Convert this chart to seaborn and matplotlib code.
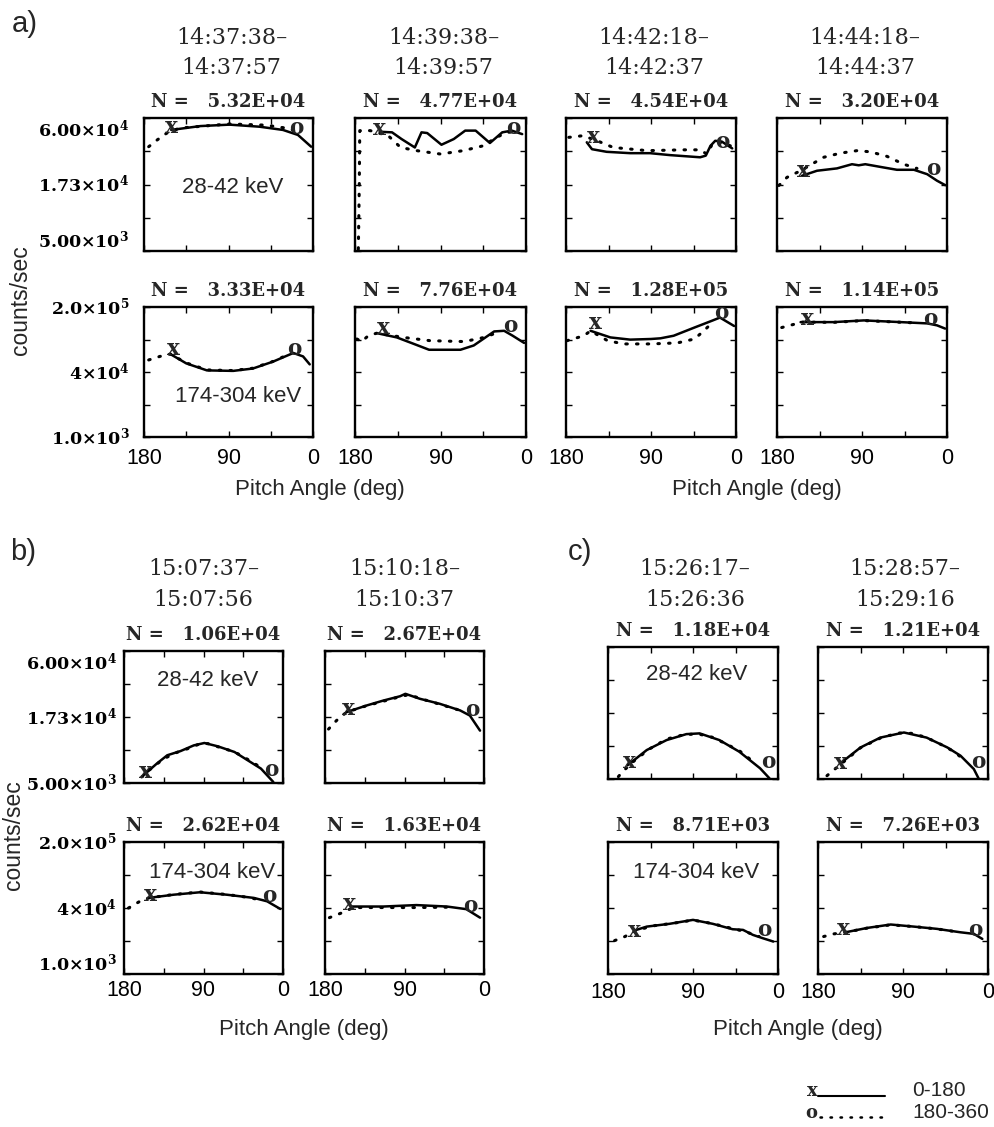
import numpy as np
import pandas as pd
import matplotlib
matplotlib.use("Agg")
import matplotlib.pyplot as plt
import seaborn as sns
from matplotlib.lines import Line2D
from matplotlib.ticker import NullLocator

# ---------------- data (pitch angle [deg], counts/sec) ----------------
LOW_RANGE = (5000, 60000)
HIGH_RANGE = (1000, 200000)
LOW_YLABELS = [r"$5.00×10^{3}$", r"$1.73×10^{4}$", r"$6.00×10^{4}$"]
HIGH_YLABELS = [r"$1.0×10^{3}$", r"$4×10^{4}$", r"$2.0×10^{5}$"]
X_TICKS = [180, 135, 90, 45, 0]
X_LABELS = ["180", "", "90", "", "0"]

TIMES_A = [("14:37:38–", "14:37:57"), ("14:39:38–", "14:39:57"),
           ("14:42:18–", "14:42:37"), ("14:44:18–", "14:44:37")]
TIMES_B = [("15:07:37–", "15:07:56"), ("15:10:18–", "15:10:37")]
TIMES_C = [("15:26:17–", "15:26:36"), ("15:28:57–", "15:29:16")]

N_LOW_A = ["5.32E+04", "4.77E+04", "4.54E+04", "3.20E+04"]
N_HIGH_A = ["3.33E+04", "7.76E+04", "1.28E+05", "1.14E+05"]
N_LOW_B = ["1.06E+04", "2.67E+04"]
N_HIGH_B = ["2.62E+04", "1.63E+04"]
N_LOW_C = ["1.18E+04", "1.21E+04"]
N_HIGH_C = ["8.71E+03", "7.26E+03"]

ENERGY_LOW = "28-42 keV"
ENERGY_HIGH = "174-304 keV"

# section a, 28-42 keV
LA1_solid = ([151, 120, 89, 57, 32, 16, 2], [48000, 51600, 53000, 51000, 48000, 43700, 35100])
LA1_dot = ([175, 166, 156, 142, 89, 50, 25, 14], [35100, 39800, 45100, 49700, 53700, 52500, 49200, 45100])
LA1_mark = [(151, 51000), (18, 49700)]
LA2_solid = ([154, 141, 131, 117, 110, 104, 89, 76, 64, 53, 38, 25, 15, 4],
             [46400, 45900, 40500, 34600, 45900, 45300, 36400, 40500, 47400, 47400, 37600, 45900, 47400, 44400])
LA2_dot = ([176.5, 176, 175.5, 175, 164, 145, 132, 115, 90, 66, 45, 31, 20, 10],
           [5170, 9000, 17000, 47400, 47400, 43100, 34600, 32600, 30600, 32600, 35700, 41800, 45900, 46400])
LA2_mark = [(154, 48800), (13, 49400)]
LA3_solid = ([158, 152.5, 137, 112, 91, 70, 38, 32, 27, 22, 15, 4],
             [38100, 33500, 31900, 31100, 31100, 30000, 28800, 29700, 35700, 39200, 38600, 34000])
LA3_dot = ([177, 162, 147, 130, 94, 56, 38, 31, 25, 20, 6],
           [41800, 43100, 39200, 34600, 32600, 33100, 33100, 30600, 36900, 38600, 35700])
LA3_mark = [(151, 41800), (15, 38600)]
LA4_solid = ([153.5, 137.6, 116.5, 100.6, 93.5, 86.5, 67, 53, 35, 21, 10.6, 1.8],
             [20400, 22400, 23400, 25300, 24800, 25300, 23800, 22800, 22800, 21000, 18600, 17100])
LA4_dot = ([178, 169.4, 155, 130.6, 113, 95.3, 81.2, 63.5, 45.9, 31.8],
           [17000, 19800, 22400, 28800, 31100, 32600, 31900, 29300, 25300, 23400])
LA4_mark = [(152.5, 22400), (14, 23100)]

# section a, 174-304 keV
HA1_solid = ([152, 135, 113, 85, 64, 42.5, 21, 10.6, 3.5], [29400, 20100, 15100, 14800, 16300, 21600, 30700, 26700, 19300])
HA1_dot = ([175, 163, 152, 135, 113, 85, 64, 42.5, 25], [23100, 26700, 29400, 20500, 15400, 15000, 16500, 21800, 29500])
HA1_mark = [(149, 35400), (19.5, 35400)]
HA2_solid = ([157, 136, 118, 102, 69, 55, 33.5, 23, 14, 2],
             [68900, 57900, 44400, 35000, 35000, 41700, 73900, 75800, 62000, 46300])
HA2_dot = ([178, 173, 166, 157, 129, 101, 65, 44, 30], [54300, 48900, 62000, 68900, 57900, 50700, 48900, 57900, 70800])
HA2_mark = [(150, 86600), (16, 92200)]
HA3_solid = ([154, 133, 112, 90, 80, 66, 44, 25, 17, 2],
             [75800, 57900, 52900, 54300, 55800, 62000, 86600, 115000, 130000, 92200])
HA3_dot = ([179, 161, 154, 136, 119, 90, 62, 44, 34, 27],
           [50700, 62000, 75800, 50700, 44400, 44400, 46300, 54300, 75800, 98800])
HA3_mark = [(149, 105300), (16, 157000)]
HA4_solid = ([155, 120, 88, 49, 21, 10.6, 2], [108000, 108000, 115800, 108000, 102500, 94700, 83000])
HA4_dot = ([175, 162, 155, 120, 88, 49, 30], [86600, 98800, 108000, 107000, 115000, 107500, 104000])
HA4_mark = [(148, 124000), (17.6, 124000)]

# section b
LB1_solid = ([158, 143, 131, 116, 101, 89, 74, 55, 40, 25, 11],
             [5780, 7190, 8430, 9120, 10150, 10620, 9980, 8970, 7670, 6560, 5100])
LB1_dot = ([160, 150, 135, 120, 105, 95, 85, 70, 55, 40, 28],
           [5600, 6500, 7900, 8900, 9700, 10400, 10500, 9700, 9000, 7800, 6900])
LB1_mark = [(156, 6150), (13, 6350)]
LB2_solid = ([155.5, 133, 114, 95, 89, 72.5, 50, 27, 16, 4.5],
             [19000, 21500, 23600, 25600, 26800, 24400, 22200, 19600, 17800, 13400])
LB2_dot = ([176, 167, 155.5, 133, 114, 95, 85, 72, 50, 30],
           [13800, 16200, 19000, 21400, 23300, 25400, 26400, 24500, 22000, 19900])
LB2_mark = [(153.6, 20200), (12.8, 19600)]
HB1_solid = ([152, 124, 94, 63.5, 33, 18, 3], [21200, 24100, 26600, 24100, 21200, 18500, 13600])
HB1_dot = ([175, 162, 152, 124, 94, 63.5, 40, 25], [14100, 18500, 21200, 24300, 26900, 24300, 21700, 19500])
HB1_mark = [(150.5, 24100), (16, 22500)]
HB2_solid = ([150, 114, 76.5, 42, 20, 4.5], [15000, 15000, 15900, 15000, 13500, 9600])
HB2_dot = ([175, 160, 148, 114, 76, 42], [9600, 11800, 14400, 14400, 14400, 14600])
HB2_mark = [(152, 16600), (16, 15500)]

# section c
LC1_solid = ([159, 139, 118, 97, 83, 62, 41, 19, 9], [6500, 8620, 10400, 11640, 11800, 10400, 8360, 6120, 5060])
LC1_dot = ([169, 164, 150, 135, 118, 100, 85, 70, 55, 40, 30],
           [5230, 5800, 7300, 8900, 10600, 11500, 11700, 11000, 9700, 8400, 7300])
LC1_mark = [(157, 6930), (10.6, 6930)]
LC2_solid = ([155, 135, 114, 89, 65, 43, 29, 15, 10], [6840, 9050, 10900, 12000, 10900, 9050, 7740, 6030, 5060])
LC2_dot = ([170.5, 160, 150, 135, 114, 95, 80, 65, 50, 35, 25],
           [5320, 6220, 7200, 9000, 10800, 11900, 11800, 10900, 9600, 8300, 7100])
LC2_mark = [(156, 6750), (10, 6840)]
HC1_solid = ([150, 139, 115, 90, 69, 48, 37, 26.5, 16, 5], [5870, 6700, 7490, 8780, 7490, 6030, 5870, 4800, 4200, 3680])
HC1_dot = ([173, 162, 150, 130, 110, 90, 70, 50, 35, 20], [3820, 4500, 5800, 7000, 7700, 8700, 7600, 6300, 5500, 4500])
HC1_mark = [(152, 5510), (14, 5870)]
HC2_solid = ([151, 128, 103, 78.5, 54, 29, 15, 6], [5330, 6350, 7290, 6700, 6120, 5330, 5010, 4090])
HC2_dot = ([174, 163, 151, 128, 103, 78, 54, 35], [4500, 5010, 5330, 6300, 7200, 6700, 6100, 5500])
HC2_mark = [(153, 6120), (13, 5870)]

LEGEND_LABELS = ["0-180", "180-360"]

# ---------------- style ----------------
sns.set_theme(style="white")
plt.rcParams['font.family'] = ['Liberation Sans', 'DejaVu Sans']
plt.rcParams['mathtext.fontset'] = 'custom'
plt.rcParams['mathtext.rm'] = 'DejaVu Serif:bold'
plt.rcParams['mathtext.it'] = 'DejaVu Serif:bold'
plt.rcParams['mathtext.bf'] = 'DejaVu Serif:bold'
plt.rcParams['mathtext.default'] = 'rm'

W, H = 994, 1127
fig = plt.figure(figsize=(W / 100, H / 100), dpi=100)

SERIF_B = dict(family='DejaVu Serif', weight='bold')
DOT_STYLE = (0, (0.5, 3.0))


def fx(x):
    return x / W


def fy(y):
    return 1 - y / H


def add_ax(x0, x1, y0, y1):
    return fig.add_axes([x0 / W, 1 - y1 / H, (x1 - x0) / W, (y1 - y0) / H])


def draw_panel(box, solid, dot, marks, yrange, ylabels, nval, show_x, xpad, ypad, label_va):
    ax = add_ax(*box)
    df_d = pd.DataFrame({'pa': dot[0], 'cps': dot[1]})
    df_s = pd.DataFrame({'pa': solid[0], 'cps': solid[1]})
    sns.lineplot(data=df_d, x='pa', y='cps', ax=ax, color='black', lw=2.2,
                 linestyle=DOT_STYLE, dash_capstyle='round', estimator=None, sort=False)
    sns.lineplot(data=df_s, x='pa', y='cps', ax=ax, color='black', lw=1.8,
                 estimator=None, sort=False)
    ax.text(marks[0][0], marks[0][1], 'x', ha='center', va='center', fontsize=15.5, **SERIF_B)
    ax.text(marks[1][0], marks[1][1], 'o', ha='center', va='center', fontsize=15.5, **SERIF_B)
    lo, hi = yrange
    ax.set_yscale('log')
    ax.set_ylim(lo, hi)
    ax.set_xlim(180, 0)
    ax.set_xticks(X_TICKS)
    ax.set_xticklabels(X_LABELS if show_x else [''] * 5, fontsize=15.5)
    yt = [lo * (hi / lo) ** (k / 4) for k in range(5)]
    ax.set_yticks(yt)
    ax.yaxis.set_minor_locator(NullLocator())
    if ylabels is not None:
        ax.set_yticklabels([ylabels[0], '', ylabels[1], '', ylabels[2]], fontsize=12.5)
        tl = ax.get_yticklabels()
        for i, va in zip([0, 2, 4], label_va):
            tl[i].set_va(va)
    else:
        ax.set_yticklabels([''] * 5)
    ax.set_xlabel('')
    ax.set_ylabel('')
    ax.tick_params(axis='both', which='major', direction='in', length=4, width=1,
                   top=True, right=True, bottom=True, left=True, colors='black')
    ax.tick_params(axis='x', pad=xpad)
    ax.tick_params(axis='y', pad=ypad)
    for s in ax.spines.values():
        s.set_linewidth(1.7)
        s.set_color('black')
        s.set_visible(True)
    ax.annotate(f"N =   {nval}", xy=(0.5, 1.0), xycoords='axes fraction',
                xytext=(0, 5), textcoords='offset points', ha='center', va='bottom',
                fontsize=13, **SERIF_B)
    return ax


# ---------------- section a ----------------
A_X = [(144, 313), (355, 526), (566, 736), (777, 947)]
A_ROW1 = (118, 251)
A_ROW2 = (307, 437)
A_LOW = [(LA1_solid, LA1_dot, LA1_mark), (LA2_solid, LA2_dot, LA2_mark),
         (LA3_solid, LA3_dot, LA3_mark), (LA4_solid, LA4_dot, LA4_mark)]
A_HIGH = [(HA1_solid, HA1_dot, HA1_mark), (HA2_solid, HA2_dot, HA2_mark),
          (HA3_solid, HA3_dot, HA3_mark), (HA4_solid, HA4_dot, HA4_mark)]
for i, (x0, x1) in enumerate(A_X):
    s, d, m = A_LOW[i]
    draw_panel((x0, x1, *A_ROW1), s, d, m, LOW_RANGE, LOW_YLABELS if i == 0 else None,
               N_LOW_A[i], False, 8, 10.5, ['bottom', 'center', 'top'])
    s, d, m = A_HIGH[i]
    draw_panel((x0, x1, *A_ROW2), s, d, m, HIGH_RANGE, HIGH_YLABELS if i == 0 else None,
               N_HIGH_A[i], True, 8, 10.5, ['center', 'center', 'center'])
    cx = (x0 + x1) / 2 + 3
    fig.text(fx(cx), fy(37.5), TIMES_A[i][0], ha='center', va='center', fontsize=16, family='DejaVu Serif')
    fig.text(fx(cx), fy(68), TIMES_A[i][1], ha='center', va='center', fontsize=16, family='DejaVu Serif')

# ---------------- section b ----------------
B_X = [(124, 283), (325, 484)]
B_ROW1 = (651, 783)
B_ROW2 = (842, 974)
B_LOW = [(LB1_solid, LB1_dot, LB1_mark), (LB2_solid, LB2_dot, LB2_mark)]
B_HIGH = [(HB1_solid, HB1_dot, HB1_mark), (HB2_solid, HB2_dot, HB2_mark)]
for i, (x0, x1) in enumerate(B_X):
    s, d, m = B_LOW[i]
    draw_panel((x0, x1, *B_ROW1), s, d, m, LOW_RANGE, LOW_YLABELS if i == 0 else None,
               N_LOW_B[i], False, 4, 5, ['center', 'center', 'top'])
    s, d, m = B_HIGH[i]
    draw_panel((x0, x1, *B_ROW2), s, d, m, HIGH_RANGE, HIGH_YLABELS if i == 0 else None,
               N_HIGH_B[i], True, 4, 5, ['bottom', 'center', 'center'])
    cx = (x0 + x1) / 2
    fig.text(fx(cx), fy(569), TIMES_B[i][0], ha='center', va='center', fontsize=16, family='DejaVu Serif')
    fig.text(fx(cx), fy(600), TIMES_B[i][1], ha='center', va='center', fontsize=16, family='DejaVu Serif')

# ---------------- section c ----------------
C_X = [(608, 778), (818, 988)]
C_ROW1 = (647, 779)
C_ROW2 = (842, 974)
C_LOW = [(LC1_solid, LC1_dot, LC1_mark), (LC2_solid, LC2_dot, LC2_mark)]
C_HIGH = [(HC1_solid, HC1_dot, HC1_mark), (HC2_solid, HC2_dot, HC2_mark)]
for i, (x0, x1) in enumerate(C_X):
    s, d, m = C_LOW[i]
    draw_panel((x0, x1, *C_ROW1), s, d, m, LOW_RANGE, None,
               N_LOW_C[i], False, 6, 5, None)
    s, d, m = C_HIGH[i]
    draw_panel((x0, x1, *C_ROW2), s, d, m, HIGH_RANGE, None,
               N_HIGH_C[i], True, 6, 5, None)
    cx = (x0 + x1) / 2 + 2
    fig.text(fx(cx), fy(569), TIMES_C[i][0], ha='center', va='center', fontsize=16, family='DejaVu Serif')
    fig.text(fx(cx), fy(600), TIMES_C[i][1], ha='center', va='center', fontsize=16, family='DejaVu Serif')

# ---------------- annotations ----------------
fig.text(fx(12), fy(10), "a)", ha='left', va='top', fontsize=21)
fig.text(fx(10), fy(538), "b)", ha='left', va='top', fontsize=21)
fig.text(fx(568), fy(538), "c)", ha='left', va='top', fontsize=21)

for (x, y, t) in [(233, 188, ENERGY_LOW), (238, 397, ENERGY_HIGH),
                  (208, 680, ENERGY_LOW), (212, 872, ENERGY_HIGH),
                  (697, 675, ENERGY_LOW), (696, 872, ENERGY_HIGH)]:
    fig.text(fx(x), fy(y), t, ha='center', va='center', fontsize=16)

for (x, y) in [(320, 489), (757, 489), (304, 1029), (798, 1029)]:
    fig.text(fx(x), fy(y), "Pitch Angle (deg)", ha='center', va='center', fontsize=16)

fig.text(fx(21), fy(300), "counts/sec", rotation=90, ha='center', va='center', fontsize=16.5)
fig.text(fx(14), fy(835), "counts/sec", rotation=90, ha='center', va='center', fontsize=16.5)

# legend
fig.text(fx(812), fy(1091), "x", ha='center', va='center', fontsize=13, **SERIF_B)
fig.add_artist(Line2D([fx(818), fx(885)], [fy(1096), fy(1096)], color='black', lw=1.5))
fig.text(fx(912), fy(1091), LEGEND_LABELS[0], ha='left', va='center', fontsize=15)
fig.text(fx(811), fy(1113), "o", ha='center', va='center', fontsize=13, **SERIF_B)
fig.add_artist(Line2D([fx(820), fx(887)], [fy(1117), fy(1117)], color='black', lw=1.8,
                      linestyle=(0, (0.6, 3.4)), dash_capstyle='round'))
fig.text(fx(912), fy(1113), LEGEND_LABELS[1], ha='left', va='center', fontsize=15)

fig.savefig("out.png", dpi=100, facecolor='white')
